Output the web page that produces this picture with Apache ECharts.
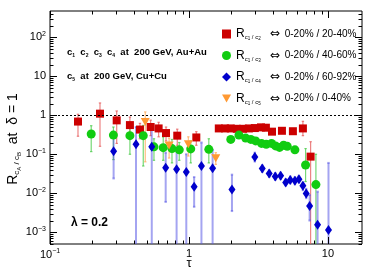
<!DOCTYPE html>
<html><head><meta charset="utf-8">
<script src="https://cdn.jsdelivr.net/npm/echarts@6/dist/echarts.min.js"></script>
<style>html,body{margin:0;padding:0;background:#fff}#c{width:382px;height:274px}</style>
</head><body><div id="c"></div>
<script>
// ---- data ----
const redTau = [0.159,0.229,0.302,0.376,0.444,0.53,0.605,0.684,0.824,1.13,1.64,1.82,2.00,2.21,2.45,2.70,2.98,3.30,3.58,3.96,4.67,5.60,6.61,7.51];
const redR   = [0.69,1.10,0.74,0.56,0.43,0.50,0.46,0.35,0.30,0.27,0.46,0.46,0.46,0.45,0.45,0.46,0.47,0.49,0.48,0.38,0.40,0.39,0.46,0.087];
const redLo  = [0.29,0.16,0.19,0.27,0.25,0.30,0.28,0.22,0.17,0.17,0.40,0.41,0.41,0.40,0.40,0.41,0.42,0.44,0.43,0.34,0.36,0.35,0.30,0.00001];
const redHi  = [1.06,2.07,1.29,0.90,0.62,0.75,0.66,0.50,0.44,0.38,0.52,0.51,0.51,0.50,0.50,0.51,0.52,0.55,0.54,0.43,0.45,0.44,0.70,0.21];

const greenTau = [0.198,0.286,0.376,0.469,0.56,0.653,0.755,0.852,1.03,1.39,2.00,2.29,2.56,2.79,3.02,3.33,3.60,3.93,4.20,4.49,4.80,5.10,5.79,6.91,8.2];
const greenR   = [0.33,0.31,0.30,0.30,0.155,0.148,0.14,0.13,0.137,0.134,0.24,0.31,0.26,0.24,0.22,0.19,0.18,0.19,0.164,0.15,0.17,0.16,0.13,0.053,0.0167];
const greenLo  = [0.117,0.073,0.10,0.05,0.07,0.07,0.06,0.07,0.06,0.06,0.21,0.27,0.23,0.21,0.19,0.17,0.16,0.17,0.145,0.13,0.15,0.14,0.115,0.02,0.00001];
const greenHi  = [0.54,0.50,0.48,0.55,0.25,0.28,0.24,0.20,0.22,0.25,0.27,0.35,0.29,0.27,0.25,0.21,0.20,0.21,0.185,0.17,0.19,0.18,0.145,0.14,0.10];

const blueTau = [0.287,0.416,0.54,0.68,0.815,0.957,1.09,1.23,1.48,2.04,2.98,3.37,3.78,4.18,4.57,4.97,5.36,5.79,6.19,6.61,6.98,7.39,8.43,10.1];
const blueR   = [0.12,0.18,0.155,0.045,0.041,0.035,0.0148,0.05,0.044,0.0124,0.085,0.043,0.032,0.027,0.028,0.019,0.022,0.021,0.023,0.0155,0.0098,0.0047,0.00155,0.00115];
const blueLo  = [0.024,0.00001,0.00001,0.006,0.00001,0.00001,0.0045,0.00001,0.00001,0.0035,0.065,0.035,0.026,0.022,0.023,0.016,0.018,0.017,0.019,0.012,0.0075,0.002,0.00001,0.00001];
const blueHi  = [0.34,0.50,0.45,0.11,0.13,0.10,0.026,0.20,0.13,0.03,0.11,0.052,0.039,0.033,0.034,0.023,0.027,0.026,0.028,0.019,0.013,0.009,0.011,0.06];

const orangeTau = [0.485,0.72,0.99,1.56];
const orangeR   = [0.67,0.167,0.18,0.079];
const orangeLo  = [0.064,0.08,0.09,0.055];
const orangeHi  = [1.22,0.26,0.28,0.11];

const xMin = 0.1, xMax = 17.6, yMin = 0.0005, yMax = 472;
const FONT = "'Liberation Sans', Arial, 'DejaVu Sans', sans-serif";

function powLabel(v){
  const e = Math.log10(v), r = Math.round(e);
  if (Math.abs(e - r) > 1e-6) return '';
  if (r === 0) return '1';
  if (r === 1) return '10';
  return '10{sup|' + (r < 0 ? '\u2212' + (-r) : r) + '}';
}

function errSeries(tau, lo, hi, color, width){
  return {
    type:'custom', data: tau.map((t,i)=>[t,lo[i],hi[i]]), clip:true, z:2, silent:true,
    encode:{x:0,y:[1,2]},
    renderItem:(params, api)=>{
      const x = api.value(0);
      const p1 = api.coord([x, api.value(1)]), p2 = api.coord([x, api.value(2)]);
      const st = {stroke:color, lineWidth:width};
      return {type:'group', children:[
        {type:'line', shape:{x1:p1[0],y1:p1[1],x2:p2[0],y2:p2[1]}, style:st},
        {type:'line', shape:{x1:p2[0]-1.2,y1:p2[1],x2:p2[0]+1.2,y2:p2[1]}, style:st},
        {type:'line', shape:{x1:p1[0]-1.2,y1:p1[1],x2:p1[0]+1.2,y2:p1[1]}, style:st}
      ]};
    }
  };
}

const tickSeries = {
  type:'custom', data:[[1,1]], clip:false, silent:true, z:6,
  renderItem:(params, api)=>{
    const ch = [];
    const bl = api.coord([xMin, yMin]), tr = api.coord([xMax, yMax]);
    const L = bl[0], B = bl[1], R = tr[0], T = tr[1];
    const st = {stroke:'#000', lineWidth:1};
    for (let k=-2;k<=2;k++) for (let m=1;m<=9;m++){
      const v = m*Math.pow(10,k); if (v < xMin-1e-9 || v > xMax) continue;
      const px = Math.round(api.coord([v,1])[0])+0.5; const len = m===1?7:3.5;
      ch.push({type:'line', shape:{x1:px,y1:B,x2:px,y2:B-len}, style:st});
      ch.push({type:'line', shape:{x1:px,y1:T,x2:px,y2:T+len}, style:st});
    }
    for (let k=-4;k<=2;k++) for (let m=1;m<=9;m++){
      const v = m*Math.pow(10,k); if (v < yMin || v > yMax) continue;
      const py = Math.round(api.coord([1,v])[1])+0.5; const len = m===1?7:3.5;
      ch.push({type:'line', shape:{x1:L,y1:py,x2:L+len,y2:py}, style:st});
      ch.push({type:'line', shape:{x1:R,y1:py,x2:R-len,y2:py}, style:st});
    }
    return {type:'group', children:ch};
  }
};

const subRich = {
  R:{fontSize:12, fontFamily:FONT, color:'#000'},
  s:{fontSize:6, fontFamily:FONT, color:'#000', padding:[7,0,0,0]},
  ss:{fontSize:4.5, fontFamily:FONT, color:'#000', padding:[10,0,0,0]},
  arr:{fontSize:12, fontFamily:"'DejaVu Sans', sans-serif", color:'#000', padding:[0,5,0,9]}
};

const legendText = {
  'r1':'{R|R}{s|c}{ss|1}{s| / c}{ss|2}{arr|\u21D4}0-20% / 20-40%',
  'r2':'{R|R}{s|c}{ss|1}{s| / c}{ss|3}{arr|\u21D4}0-20% / 40-60%',
  'r3':'{R|R}{s|c}{ss|1}{s| / c}{ss|4}{arr|\u21D4}0-20% / 60-92%',
  'r4':'{R|R}{s|c}{ss|1}{s| / c}{ss|5}{arr|\u21D4}0-20% / 0-40%'
};

const chart = echarts.init(document.getElementById('c'), null, {renderer:'canvas'});
chart.setOption({
  animation:false,
  backgroundColor:'#fff',
  grid:{left:50, right:20, top:11, bottom:30, show:true, borderColor:'#000', borderWidth:1, backgroundColor:'transparent'},
  xAxis:{type:'log', min:xMin, max:xMax, logBase:10,
    axisLine:{show:false}, axisTick:{show:false}, splitLine:{show:false},
    axisLabel:{formatter:powLabel, margin:4, color:'#000', fontSize:11, fontFamily:FONT,
      rich:{sup:{fontSize:7, fontFamily:FONT, color:'#000', padding:[0,0,6,0]}}}},
  yAxis:{type:'log', min:yMin, max:yMax, logBase:10,
    axisLine:{show:false}, axisTick:{show:false}, splitLine:{show:false},
    axisLabel:{formatter:powLabel, margin:4, color:'#000', fontSize:11, fontFamily:FONT,
      rich:{sup:{fontSize:7, fontFamily:FONT, color:'#000', padding:[0,0,6,0]}}}},
  legend:{data:['r1','r2','r3','r4'], orient:'vertical', left:217, top:23, itemWidth:9, itemHeight:9, itemGap:8,
    formatter:n=>legendText[n], selectedMode:false,
    textStyle:{fontSize:10, fontFamily:FONT, color:'#000', rich:subRich}},
  series:[
    errSeries(redTau, redLo, redHi, 'rgba(230,90,90,0.75)', 1.2),
    errSeries(greenTau, greenLo, greenHi, 'rgba(60,200,60,0.7)', 1.2),
    errSeries(blueTau, blueLo, blueHi, 'rgba(90,90,230,0.55)', 2),
    errSeries(orangeTau, orangeLo, orangeHi, 'rgba(255,170,90,0.75)', 1.2),
    {name:'r1', type:'scatter', symbol:'rect', symbolSize:8, itemStyle:{color:'#cc0000', opacity:1}, z:3,
      data: redTau.map((t,i)=>[t, redR[i]]),
      markLine:{silent:true, symbol:'none', label:{show:false}, lineStyle:{color:'#000', type:[2,2], width:1}, data:[{yAxis:1}]}},
    {name:'r2', type:'scatter', symbol:'circle', symbolSize:9, itemStyle:{color:'#11cc11', opacity:1}, z:3,
      data: greenTau.map((t,i)=>[t, greenR[i]])},
    {name:'r3', type:'scatter', symbol:'diamond', symbolSize:[7,10], itemStyle:{color:'#0000cc', opacity:1}, z:4,
      data: blueTau.map((t,i)=>[t, blueR[i]])},
    {name:'r4', type:'scatter', symbol:'path://M0,0L10,0L5,9Z', symbolSize:[9,8], itemStyle:{color:'#ff9933', opacity:1}, z:4,
      data: orangeTau.map((t,i)=>[t, orangeR[i]])},
    tickSeries
  ],
  graphic:[
    {type:'text', left:67, top:47, style:{text:'c{a|1}  c{a|2}  c{a|3}  c{a|4}  at  200 GeV, Au+Au', fontSize:9.5, fontWeight:'bold', fontFamily:FONT, fill:'#000',
      rich:{a:{fontSize:5, fontWeight:'bold', fontFamily:FONT, padding:[7,0,0,0]}}}},
    {type:'text', left:67, top:71, style:{text:'c{a|5}  at  200 GeV, Cu+Cu', fontSize:9.5, fontWeight:'bold', fontFamily:FONT, fill:'#000',
      rich:{a:{fontSize:5, fontWeight:'bold', fontFamily:FONT, padding:[7,0,0,0]}}}},
    {type:'text', left:71, top:217, style:{text:'\u03BB = 0.2', fontSize:12, fontWeight:'bold', fontFamily:FONT, fill:'#000'}},
    {type:'text', x:189, y:263, style:{text:'\u03C4', fontSize:13, fontFamily:FONT, fill:'#000', align:'center', verticalAlign:'middle'}},
    {type:'text', x:13, y:139, rotation:Math.PI/2, style:{text:'R{s|c}{ss|A}{s| / c}{ss|B}  at  \u03B4 = 1', fontSize:14, fontFamily:FONT, fill:'#000', align:'center', verticalAlign:'middle',
      rich:{s:{fontSize:8, fontFamily:FONT, padding:[8,0,0,0]}, ss:{fontSize:6, fontFamily:FONT, padding:[12,0,0,0]}}}}
  ]
});
</script></body></html>
